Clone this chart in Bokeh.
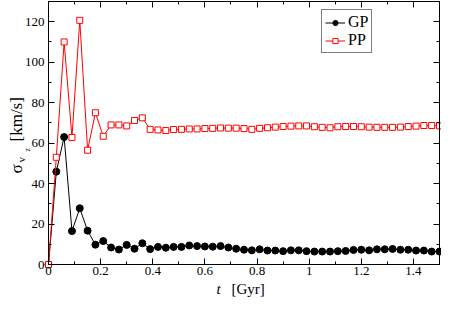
import math
from bokeh.plotting import figure
from bokeh.models import Range1d, LinearAxis, FixedTicker, Label, Legend, LegendItem
from bokeh.embed import file_html
from bokeh.resources import INLINE

# ---- data ----
t_gyr = [0.00, 0.03, 0.06, 0.09, 0.12, 0.15, 0.18, 0.21, 0.24, 0.27,
         0.30, 0.33, 0.36, 0.39, 0.42, 0.45, 0.48, 0.51, 0.54, 0.57,
         0.60, 0.63, 0.66, 0.69, 0.72, 0.75, 0.78, 0.81, 0.84, 0.87,
         0.90, 0.93, 0.96, 0.99, 1.02, 1.05, 1.08, 1.11, 1.14, 1.17,
         1.20, 1.23, 1.26, 1.29, 1.32, 1.35, 1.38, 1.41, 1.44, 1.47, 1.50]

sigma_gp = [0.0, 45.9, 63.0, 16.5, 27.8, 16.7, 9.8, 11.6, 8.4, 7.4,
            9.7, 7.8, 10.5, 7.6, 8.7, 8.3, 8.7, 8.7, 9.4, 9.1,
            8.9, 8.8, 9.1, 8.4, 7.8, 7.3, 7.0, 7.5, 6.9, 6.9,
            6.6, 7.0, 7.0, 6.6, 6.4, 6.4, 6.4, 6.6, 6.7, 7.2,
            7.3, 7.0, 7.5, 7.5, 7.7, 7.3, 7.3, 6.9, 6.9, 6.4, 6.4]

sigma_pp = [0.0, 53.0, 110.0, 62.8, 120.7, 56.5, 75.0, 63.4, 69.0, 69.0,
            68.5, 71.2, 72.5, 66.8, 66.5, 66.2, 66.7, 66.8, 67.0, 67.0,
            67.2, 67.3, 67.5, 67.4, 67.4, 67.2, 66.8, 67.3, 67.6, 67.9,
            68.2, 68.4, 68.5, 68.5, 68.1, 67.8, 67.6, 68.1, 68.2, 68.2,
            68.1, 67.9, 67.8, 67.8, 67.8, 67.9, 68.2, 68.4, 68.7, 68.7, 68.5]

series_labels = ["GP", "PP"]

x_lim = [0.0, 1.5]
y_lim = [0.0, 130.0]
x_ticks = [0, 0.2, 0.4, 0.6, 0.8, 1.0, 1.2, 1.4]
x_tick_labels = ["0", "0.2", "0.4", "0.6", "0.8", "1", "1.2", "1.4"]
x_minor_ticks = [0.1, 0.3, 0.5, 0.7, 0.9, 1.1, 1.3, 1.5]
y_ticks = [0, 20, 40, 60, 80, 100, 120]
y_tick_labels = ["0", "20", "40", "60", "80", "100", "120"]
y_minor_ticks = [10, 30, 50, 70, 90, 110, 130]

SERIF = "Liberation Serif"

# ---- layout (canvas pixels): the frame covers the whole canvas; the visible
#      plot box is drawn by axes at fixed locations, so outside texts are not clipped
W, H = 441, 299
box_left, box_right, box_top, box_bottom = 48, 439, 1, 264
sx = (box_right - box_left) / (x_lim[1] - x_lim[0])
sy = (box_bottom - box_top) / (y_lim[1] - y_lim[0])
x_range = Range1d(x_lim[0] - box_left / sx, x_lim[1] + (W - box_right) / sx)
y_range = Range1d(y_lim[0] - (H - box_bottom) / sy, y_lim[1] + box_top / sy)

p = figure(width=W, height=H, output_backend="svg", toolbar_location=None,
           x_range=x_range, y_range=y_range,
           min_border=0, min_border_left=0, min_border_right=0,
           min_border_top=0, min_border_bottom=0)
p.grid.visible = False
p.outline_line_color = None
p.background_fill_color = "white"
p.border_fill_color = "white"


def style_axis(ax, labels, standoff=4):
    ax.axis_line_color = "black"
    ax.axis_line_width = 1
    ax.major_tick_line_color = "black"
    ax.minor_tick_line_color = "black"
    ax.major_tick_in = 6
    ax.major_tick_out = 0
    ax.minor_tick_in = 3
    ax.minor_tick_out = 0
    ax.major_label_text_font = SERIF
    ax.major_label_text_font_size = "13px"
    ax.major_label_text_color = "black"
    ax.major_label_standoff = standoff
    ax.major_label_overrides = labels


x_labels = dict(zip(x_ticks, x_tick_labels))
y_labels = dict(zip(y_ticks, y_tick_labels))
x_blank = {k: "" for k in x_ticks}
y_blank = {k: "" for k in y_ticks}

bottom = p.xaxis[0]
bottom.ticker = FixedTicker(ticks=x_ticks, minor_ticks=x_minor_ticks)
bottom.fixed_location = y_lim[0]
bottom.bounds = (x_lim[0], x_lim[1])
style_axis(bottom, x_labels, standoff=2)

left = p.yaxis[0]
left.ticker = FixedTicker(ticks=y_ticks, minor_ticks=y_minor_ticks)
left.fixed_location = x_lim[0]
left.bounds = (y_lim[0], y_lim[1])
style_axis(left, y_labels, standoff=4)

top = LinearAxis(ticker=FixedTicker(ticks=x_ticks, minor_ticks=x_minor_ticks),
                 fixed_location=y_lim[1], bounds=(x_lim[0], x_lim[1]))
style_axis(top, x_blank)
p.add_layout(top, "above")

right = LinearAxis(ticker=FixedTicker(ticks=y_ticks, minor_ticks=y_minor_ticks),
                   fixed_location=x_lim[1], bounds=(y_lim[0], y_lim[1]))
style_axis(right, y_blank)
p.add_layout(right, "right")

# ---- series ----
gp_line = p.line(t_gyr, sigma_gp, line_color="black", line_width=1)
gp_pts = p.scatter(t_gyr, sigma_gp, marker="circle", size=7,
                   fill_color="black", line_color="black")
pp_line = p.line(t_gyr, sigma_pp, line_color="red", line_width=1)
pp_pts = p.scatter(t_gyr, sigma_pp, marker="square", size=6,
                   fill_color="white", line_color="red", line_width=1)

legend = Legend(items=[LegendItem(label=series_labels[0], renderers=[gp_line, gp_pts]),
                       LegendItem(label=series_labels[1], renderers=[pp_line, pp_pts])],
                location=(321, 246), orientation="vertical",
                border_line_color="black", border_line_width=1,
                background_fill_color="white", background_fill_alpha=1,
                label_text_font=SERIF, label_text_font_size="16px",
                label_text_color="black",
                glyph_width=20, glyph_height=13, label_height=13,
                label_standoff=3, padding=3, spacing=0, margin=0)
p.add_layout(legend)

# ---- axis titles (screen units, from the canvas bottom-left corner) ----
rot = math.pi / 2


def add_text(x, y, text, size, angle=0.0, style="normal"):
    p.add_layout(Label(x=x, y=y, x_units="screen", y_units="screen", text=text,
                       angle=angle, text_font=SERIF, text_font_size=size,
                       text_font_style=style, text_align="left",
                       text_baseline="alphabetic", text_color="black"))


add_text(16, 126, "σ", "17px", rot)
add_text(20, 137, "v", "11px", rot)
add_text(27, 148, "z", "8px", rot)
add_text(16, 158, "[km/s]", "17px", rot)

add_text(216, 10.5, "t", "15px", 0.0, "italic")
add_text(231, 10.5, "[Gyr]", "15px")

open("out.html", "w").write(file_html(p, INLINE))
